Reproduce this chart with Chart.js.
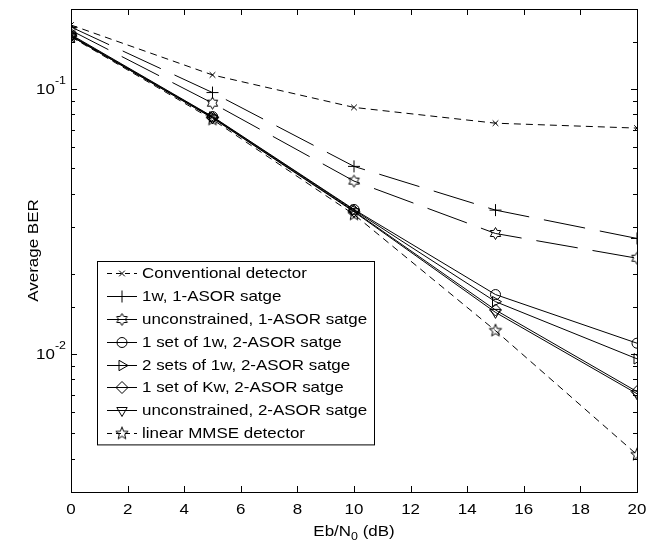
<!DOCTYPE html>
<html>
<head>
<meta charset="utf-8">
<script src="https://cdn.jsdelivr.net/npm/chart.js@4"></script>
<style>
  html, body { margin: 0; padding: 0; background: #fff; }
  #wrap { width: 659px; height: 546px; }
</style>
</head>
<body>
<div id="wrap"><canvas id="berchart" width="659" height="546"></canvas></div>
<script>
// Eb/N0 points (dB)
const snr = [0, 5, 10, 15, 20];

// average BER per detector
const conventional = [0.174, 0.1127, 0.0850, 0.0741, 0.0710];
const asor1w = [0.171, 0.0967, 0.0509, 0.0348, 0.0272];
const asor1Unc = [0.166, 0.0882, 0.0448, 0.0284, 0.0229];
const set1w2 = [0.160, 0.0785, 0.0350, 0.0167, 0.01094];
const sets2w2 = [0.159, 0.0782, 0.0348, 0.0157, 0.00955];
const setKw2 = [0.158, 0.0778, 0.0345, 0.0146, 0.00718];
const asor2Unc = [0.158, 0.0775, 0.0343, 0.0143, 0.00705];
const mmse = [0.157, 0.0765, 0.0335, 0.0122, 0.00415];

const seriesNames = [
  "Conventional detector",
  "1w, 1-ASOR satge",
  "unconstrained, 1-ASOR satge",
  "1 set of 1w, 2-ASOR satge",
  "2 sets of 1w, 2-ASOR satge",
  "1 set of Kw, 2-ASOR satge",
  "unconstrained, 2-ASOR satge",
  "linear MMSE detector"
];

const xTicks = [0, 2, 4, 6, 8, 10, 12, 14, 16, 18, 20];
const yDecades = [0.1, 0.01];

const FONT = "'Liberation Sans', Arial, Helvetica, sans-serif";
const SX = 1.13; // the source figure's lettering is a bit wide

function txt(ctx, s, x, y, size, align, baseline) {
  ctx.save();
  ctx.translate(x, y);
  ctx.scale(SX, 1);
  ctx.font = size + 'px ' + FONT;
  ctx.textAlign = align;
  ctx.textBaseline = baseline;
  ctx.fillText(s, 0, 0);
  ctx.restore();
}
function txtW(ctx, s, size) {
  ctx.font = size + 'px ' + FONT;
  return ctx.measureText(s).width * SX;
}

// star markers (hexagram / pentagram) drawn into small canvases
function starCanvas(points, outer, inner, rot) {
  const size = Math.ceil(outer * 2 + 3);
  const c = document.createElement('canvas');
  c.width = size; c.height = size;
  const g = c.getContext('2d');
  g.translate(size / 2, size / 2);
  g.beginPath();
  for (let i = 0; i < points * 2; i++) {
    const r = i % 2 === 0 ? outer : inner;
    const a = rot + i * Math.PI / points;
    const px = r * Math.sin(a), py = -r * Math.cos(a);
    if (i === 0) g.moveTo(px, py); else g.lineTo(px, py);
  }
  g.closePath();
  g.strokeStyle = '#000';
  g.lineWidth = 1;
  g.stroke();
  return c;
}
const hexagram = starCanvas(6, 6, 3.5, 0);
const pentagram = starCanvas(5, 6.5, 2.8, 0);

function ds(label, data, dash, style, radius, rotation) {
  return {
    label: label,
    data: data,
    borderColor: '#000',
    borderWidth: 1,
    borderDash: dash,
    pointStyle: style,
    pointRadius: radius,
    pointRotation: rotation || 0,
    pointBorderColor: '#000',
    pointBorderWidth: 1,
    pointBackgroundColor: 'rgba(0,0,0,0)',
    tension: 0,
    fill: false
  };
}

const shortDash = [7, 5];
const longDash = [42, 15];

const datasets = [
  ds(seriesNames[0], conventional, shortDash, 'crossRot', 4),
  ds(seriesNames[1], asor1w, longDash, 'cross', 6),
  ds(seriesNames[2], asor1Unc, longDash, hexagram, 5),
  ds(seriesNames[3], set1w2, [], 'circle', 5),
  ds(seriesNames[4], sets2w2, [], 'triangle', 6, 90),
  ds(seriesNames[5], setKw2, [], 'rectRot', 6),
  ds(seriesNames[6], asor2Unc, [], 'triangle', 6, 180),
  ds(seriesNames[7], mmse, shortDash, pentagram, 5)
];

// axes box, inward ticks, labels, titles and the boxed legend
const matlabLook = {
  id: 'matlabLook',
  afterDraw(chart) {
    const ctx = chart.ctx;
    const a = chart.chartArea;
    const xs = chart.scales.x, ys = chart.scales.y;
    ctx.save();
    ctx.strokeStyle = '#000';
    ctx.fillStyle = '#000';
    ctx.lineWidth = 1;
    ctx.setLineDash([]);

    // ticks
    ctx.beginPath();
    xTicks.forEach(v => {
      const x = Math.round(xs.getPixelForValue(v)) + 0.5;
      ctx.moveTo(x, a.bottom); ctx.lineTo(x, a.bottom - 6);
      ctx.moveTo(x, a.top); ctx.lineTo(x, a.top + 6);
    });
    ys.ticks.forEach(t => {
      const v = t.value;
      if (v < ys.min - 1e-9 || v > ys.max + 1e-9) return;
      const y = Math.round(ys.getPixelForValue(v)) + 0.5;
      const major = Math.abs(Math.log10(v) - Math.round(Math.log10(v))) < 1e-6;
      const len = major ? 6 : 4;
      ctx.moveTo(a.left, y); ctx.lineTo(a.left + len, y);
      ctx.moveTo(a.right, y); ctx.lineTo(a.right - len, y);
    });
    ctx.stroke();

    // box
    ctx.strokeRect(Math.round(a.left) + 0.5, Math.round(a.top) + 0.5,
      Math.round(a.right - a.left), Math.round(a.bottom - a.top));

    // x tick labels
    xTicks.forEach(v => {
      txt(ctx, String(v), xs.getPixelForValue(v), a.bottom + 18, 15, 'center', 'middle');
    });

    // y labels 10^n
    yDecades.forEach(v => {
      const y = ys.getPixelForValue(v);
      const exp = String(Math.round(Math.log10(v)));
      const ew = txtW(ctx, exp, 11);
      const right = a.left - 5;
      txt(ctx, exp, right - ew, y - 8, 11, 'left', 'middle');
      txt(ctx, '10', right - ew, y + 1, 15, 'right', 'middle');
    });

    // y title
    ctx.save();
    ctx.translate(34, (a.top + a.bottom) / 2);
    ctx.rotate(-Math.PI / 2);
    txt(ctx, 'Average BER', 0, 0, 15, 'center', 'middle');
    ctx.restore();

    // x title Eb/N0 (dB)
    const p1 = 'Eb/N', p3 = ' (dB)';
    const w1 = txtW(ctx, p1, 15), w3 = txtW(ctx, p3, 15), w2 = txtW(ctx, '0', 11);
    const x0 = (a.left + a.right) / 2 - (w1 + w2 + w3) / 2;
    const base = 536;
    txt(ctx, p1, x0, base, 15, 'left', 'alphabetic');
    txt(ctx, '0', x0 + w1, base + 4, 11, 'left', 'alphabetic');
    txt(ctx, p3, x0 + w1 + w2, base, 15, 'left', 'alphabetic');

    // legend
    const lx = 97, ly = 261, lw = 277, rowH = 22.8;
    const lh = rowH * datasets.length + 1;
    ctx.fillStyle = '#fff';
    ctx.fillRect(lx, ly, lw, lh);
    ctx.strokeRect(lx + 0.5, ly + 0.5, lw, lh);
    datasets.forEach((d, i) => {
      const cy = Math.round(ly + rowH / 2 + 1 + i * rowH) + 0.5;
      // short-dash entries show their dashes, long-dash ones look solid at this length
      ctx.setLineDash(d.borderDash === shortDash ? [5, 4] : []);
      ctx.beginPath();
      ctx.moveTo(107, cy);
      ctx.lineTo(137, cy);
      ctx.stroke();
      ctx.setLineDash([]);
      ctx.fillStyle = 'rgba(0,0,0,0)';
      Chart.helpers.drawPoint(ctx, {
        pointStyle: d.pointStyle,
        radius: d.pointRadius,
        rotation: d.pointRotation,
        borderWidth: 1
      }, 122, cy);
      ctx.fillStyle = '#000';
      txt(ctx, d.label, 142, cy + 0.5, 15, 'left', 'middle');
    });
    ctx.restore();
  }
};

new Chart(document.getElementById('berchart'), {
  type: 'line',
  data: { datasets: datasets.map(d => Object.assign({}, d, {
    data: d.data.map((v, i) => ({ x: snr[i], y: v }))
  })) },
  options: {
    responsive: false,
    animation: false,
    layout: { padding: { top: 9, right: 22, left: 0, bottom: 0 } },
    plugins: { legend: { display: false }, tooltip: { enabled: false } },
    scales: {
      x: {
        type: 'linear',
        min: 0, max: 20,
        grid: { display: false },
        border: { display: false },
        ticks: { display: false, stepSize: 2 },
        afterFit: s => { s.height = 54; }
      },
      y: {
        type: 'logarithmic',
        min: 0.003, max: 0.2,
        grid: { display: false },
        border: { display: false },
        ticks: { display: false },
        afterFit: s => { s.width = 71; }
      }
    }
  },
  plugins: [matlabLook]
});
</script>
</body>
</html>
